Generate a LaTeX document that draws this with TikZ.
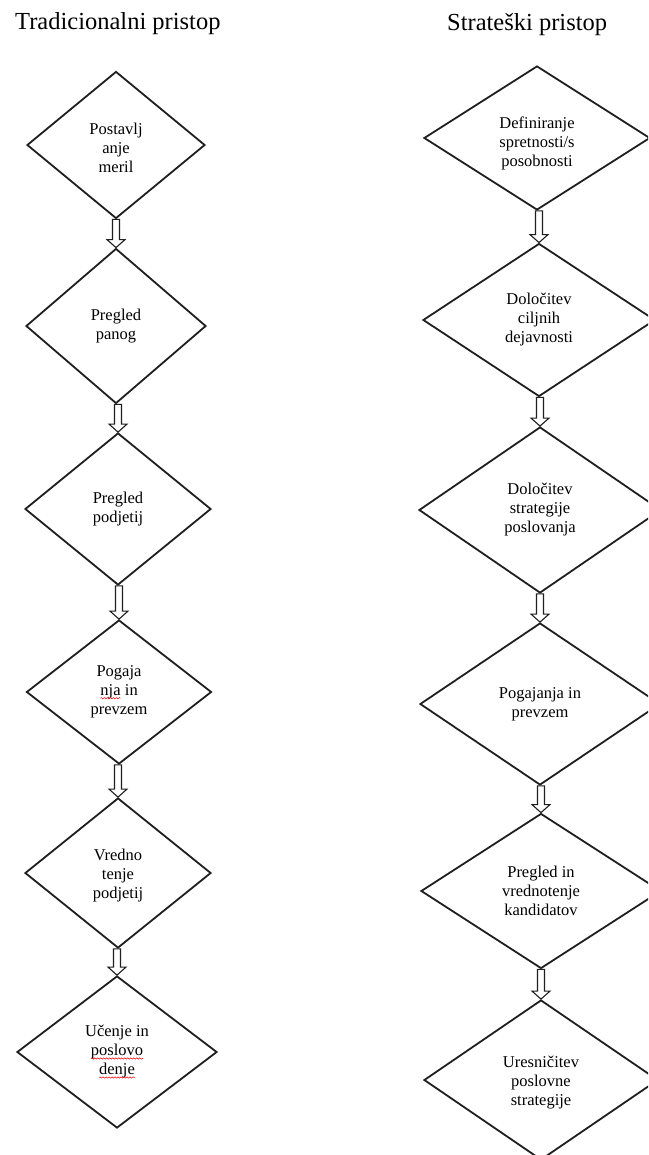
\documentclass[tikz,border=0pt]{standalone}
\usepackage{fontspec}
\setmainfont{Liberation Serif}
\usetikzlibrary{shapes.geometric,calc,decorations.pathmorphing}
\newcommand\redwave[1]{\tikz[baseline=(wv.base)]{\node[shape=rectangle,draw=none,fill=none,minimum width=0pt,minimum height=0pt,inner sep=0pt,outer sep=0pt,anchor=base] (wv) {#1};
  \draw[red,line width=0.5pt,decorate,decoration={snake,amplitude=0.7pt,segment length=3pt}]
    ([yshift=-2.5pt]wv.base west) -- ([yshift=-2.5pt]wv.base east);}}
\tikzset{
  diam/.style={draw=black!88, line width=1.8pt, shape=diamond, inner sep=0pt,
    align=center, font=\fontsize{16.5}{19}\selectfont},
  ttl/.style={anchor=base west, inner sep=0pt, font=\fontsize{24.5}{28}\selectfont},
  blockarrow/.style={draw=black!88, line width=1.1pt, fill=white, line join=miter}
}
\newcommand\barrow[2]{%
  \draw[blockarrow] ($(#1.south -| #2.north)+(-3.5,0)$) -- ($(#2.north)+(-3.5,-8)$)
    -- ($(#2.north)+(-9,-8)$) -- (#2.north) -- ($(#2.north)+(9,-8)$)
    -- ($(#2.north)+(3.5,-8)$) -- ($(#1.south -| #2.north)+(3.5,0)$) -- cycle;}
\begin{document}
\begin{tikzpicture}[x=1pt,y=-1pt]
\useasboundingbox (0,0) rectangle (648,1155);
\clip (0,0) rectangle (648,1155);
\fill[white] (0,0) rectangle (648,1155);

\node[ttl] (t1) at (15,30) {Tradicionalni pristop};
\node[ttl] (t2) at (447,31) {Strateški pristop};

% left column
\node[diam, minimum width=178, minimum height=147] (L1) at (116,145) {\rule{0pt}{17pt}Postavlj\\anje\\meril};
\node[diam, minimum width=180, minimum height=155] (L2) at (116,326) {Pregled\\panog};
\node[diam, minimum width=186, minimum height=152] (L3) at (118,509) {Pregled\\podjetij};
\node[diam, minimum width=185, minimum height=144] (L4) at (119,692) {Pogaja\\\redwave{nja} in\\prevzem};
\node[diam, minimum width=186, minimum height=150] (L5) at (118,873) {\rule{0pt}{17pt}Vredno\\tenje\\podjetij};
\node[diam, minimum width=200, minimum height=152] (L6) at (117,1052) {Učenje in\\\redwave{poslovo}\\\redwave{denje}};

% right column
\node[diam, minimum width=226, minimum height=144] (R1) at (537,138) {\rule{0pt}{22pt}Definiranje\\spretnosti/s\\posobnosti};
\node[diam, minimum width=232, minimum height=153] (R2) at (539,320) {Določitev\\ciljnih\\dejavnosti};
\node[diam, minimum width=242, minimum height=166] (R3) at (540,510) {Določitev\\strategije\\poslovanja};
\node[diam, minimum width=240, minimum height=162] (R4) at (540,704) {Pogajanja in\\prevzem};
\node[diam, minimum width=240, minimum height=155] (R5) at (541,891) {Pregled in\\vrednotenje\\kandidatov};
\node[diam, minimum width=234, minimum height=160] (R6) at (541,1080) {\rule{0pt}{17pt}Uresničitev\\poslovne\\strategije};

\barrow{L1}{L2}
\barrow{L2}{L3}
\barrow{L3}{L4}
\barrow{L4}{L5}
\barrow{L5}{L6}
\barrow{R1}{R2}
\barrow{R2}{R3}
\barrow{R3}{R4}
\barrow{R4}{R5}
\barrow{R5}{R6}
\end{tikzpicture}
\end{document}
